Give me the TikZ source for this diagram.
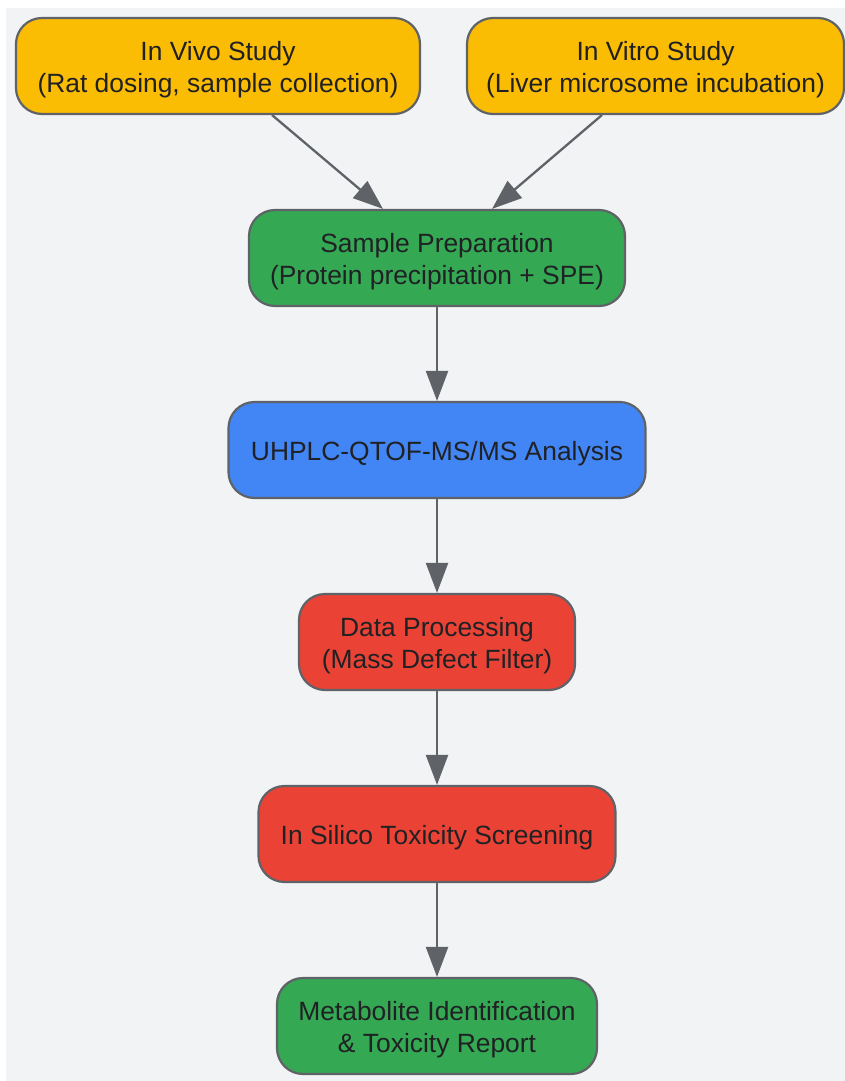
\documentclass[tikz,border=0pt]{standalone}
\usepackage{fontspec}
\setmainfont{Liberation Sans}
\usetikzlibrary{arrows.meta}
\definecolor{bggray}{HTML}{F1F3F4}
\definecolor{edgegray}{HTML}{5F6368}
\definecolor{txt}{HTML}{202124}
\definecolor{gyellow}{HTML}{FBBC04}
\definecolor{ggreen}{HTML}{34A853}
\definecolor{gblue}{HTML}{4285F4}
\definecolor{gred}{HTML}{EA4335}
\tikzset{
  box/.style={draw=edgegray, line width=2.2pt, rounded corners=26pt, inner sep=0pt, minimum height=96pt},
  boxtext/.style={align=center, text=txt, font=\fontsize{26.4pt}{31.7pt}\selectfont, inner sep=0pt, yshift=-4pt},
  conn/.style={draw=edgegray, line width=2.3pt, -{Triangle[length=30pt,width=22pt]}}
}
\begin{document}
\begin{tikzpicture}[x=1pt,y=-1pt]
\useasboundingbox (0,0) rectangle (845,1081);
\fill[white] (0,0) rectangle (845,1081);
\fill[bggray] (6,8) rectangle (845,1081);
\node[box, fill=gyellow, minimum width=404pt] (vivo) at (218,66) {};
\node[boxtext] (vivot) at (vivo.center) {In Vivo Study\\(Rat dosing, sample collection)};
\node[box, fill=gyellow, minimum width=377pt] (vitro) at (655.5,66) {};
\node[boxtext] (vitrot) at (vitro.center) {In Vitro Study\\(Liver microsome incubation)};
\node[box, fill=ggreen, minimum width=376pt] (prep) at (437,258) {};
\node[boxtext] (prept) at (prep.center) {Sample Preparation\\(Protein precipitation + SPE)};
\node[box, fill=gblue, minimum width=417pt] (uhplc) at (437,450) {};
\node[boxtext] (uhplct) at (uhplc.center) {UHPLC-QTOF-MS/MS Analysis};
\node[box, fill=gred, minimum width=276pt] (data) at (437,642) {};
\node[boxtext] (datat) at (data.center) {Data Processing\\(Mass Defect Filter)};
\node[box, fill=gred, minimum width=357pt] (silico) at (437,834) {};
\node[boxtext] (silicot) at (silico.center) {In Silico Toxicity Screening};
\node[box, fill=ggreen, minimum width=320pt] (report) at (437,1026) {};
\node[boxtext] (reportt) at (report.center) {Metabolite Identification\\\& Toxicity Report};
\coordinate (a1) at (272,115);
\coordinate (a2) at (602,115);
\draw[conn] (a1) -- (prep.north -| 383,0);
\draw[conn] (a2) -- (prep.north -| 492,0);
\draw[conn] (prep.south) -- (uhplc.north);
\draw[conn] (uhplc.south) -- (data.north);
\draw[conn] (data.south) -- (silico.north);
\draw[conn] (silico.south) -- (report.north);
\end{tikzpicture}
\end{document}
